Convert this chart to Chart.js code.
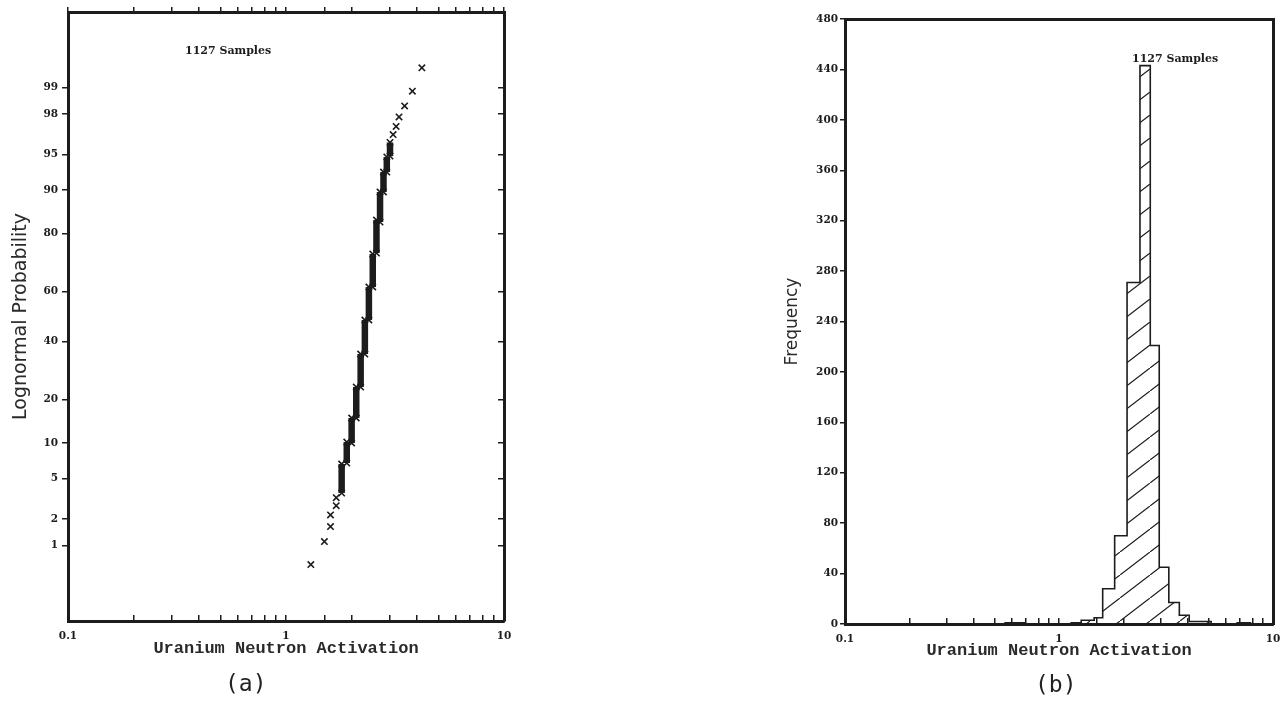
<!DOCTYPE html>
<html>
<head>
<meta charset="utf-8">
<script src="https://cdn.jsdelivr.net/npm/chart.js@4/dist/chart.umd.min.js"></script>
<style>
  body { margin: 0; background: #fff; }
  #wrap { position: relative; width: 1287px; height: 703px; overflow: hidden; background: #fff; }
  .box { position: absolute; top: 0; height: 703px; }
  .cap { position: absolute; font: 23px "DejaVu Sans Mono", monospace; line-height: 28px; color: #222; }
</style>
</head>
<body>
<div id="wrap">
  <div class="box" style="left:0;width:530px"><canvas id="chart_prob"></canvas></div>
  <div class="box" style="left:760px;width:527px"><canvas id="chart_hist"></canvas></div>
  <div class="cap" style="left:225px;top:669px">(a)</div>
  <div class="cap" style="left:1035px;top:670px">(b)</div>
</div>
<script>
// (a) lognormal probability plot
const pointX = [4.2, 3.8, 3.5, 3.3, 3.2, 3.1, 1.7, 1.7, 1.6, 1.6, 1.5, 1.3];
const pointP = [99.42, 98.89, 98.37, 97.86, 97.31, 96.76, 3.30, 2.74, 2.20, 1.65, 1.12, 0.59];

// dense columns of overlapping markers: value, lowest and highest probability (%)
const runX    = [3.0, 2.9, 2.8, 2.7, 2.6, 2.5, 2.4, 2.3, 2.2, 2.1, 2.0, 1.9, 1.8];
const runLow  = [94.82, 92.87, 89.68, 83.12, 74.03, 61.77, 48.58, 35.17, 23.71, 15.15, 9.96, 6.85, 3.66];
const runHigh = [96.13, 94.73, 92.87, 89.68, 83.62, 73.70, 61.77, 48.58, 35.17, 23.71, 15.15, 10.13, 6.72];

const probTicks = [1, 2, 5, 10, 20, 40, 60, 80, 90, 95, 98, 99];
const xTickValues = [0.1, 1, 10];
const xTickLabels = ['0.1', '1', '10'];

// (b) histogram: bin edges and counts
const binEdges  = [0.56, 0.69, 1.14, 1.27, 1.46, 1.60, 1.82, 2.08, 2.39, 2.67, 2.94, 3.26, 3.65, 4.06, 5.14, 6.8, 7.85];
const binCounts = [1, 0, 1, 3, 5, 28, 70, 271, 443, 221, 45, 17, 7, 2, 0, 1];
const freqTicks = [0, 40, 80, 120, 160, 200, 240, 280, 320, 360, 400, 440, 480];

const ink = '#1c1c1c';
const tickFont = { family: 'DejaVu Serif', size: 10.5, weight: 'bold' };
const frame = { display: true, color: ink, width: 3 };

// inverse normal cdf (Acklam), used as the probability axis transform
function qnorm(p) {
    const a = [-3.969683028665376e+01, 2.209460984245205e+02, -2.759285104469687e+02, 1.383577518672690e+02, -3.066479806614716e+01, 2.506628277459239e+00];
    const b = [-5.447609879822406e+01, 1.615858368580409e+02, -1.556989798598866e+02, 6.680131188771972e+01, -1.328068155288572e+01];
    const c = [-7.784894002430293e-03, -3.223964580411365e-01, -2.400758277161838e+00, -2.549732539343734e+00, 4.374664141464968e+00, 2.938163982698783e+00];
    const d = [7.784695709041462e-03, 3.224671290700398e-01, 2.445134137142996e+00, 3.754408661907416e+00];
    const tail = q => (((((c[0]*q+c[1])*q+c[2])*q+c[3])*q+c[4])*q+c[5]) / ((((d[0]*q+d[1])*q+d[2])*q+d[3])*q+1);
    if (p < 0.02425) return tail(Math.sqrt(-2 * Math.log(p)));
    if (p > 1 - 0.02425) return -tail(Math.sqrt(-2 * Math.log(1 - p)));
    const q = p - 0.5, r = q * q;
    return (((((a[0]*r+a[1])*r+a[2])*r+a[3])*r+a[4])*r+a[5])*q / (((((b[0]*r+b[1])*r+b[2])*r+b[3])*r+b[4])*r+1);
}
const z = pct => qnorm(pct / 100);
const zEdge = -qnorm(0.001);

function xLabel(value) {
    const i = xTickValues.findIndex(v => Math.abs(v - value) < 1e-9);
    return i < 0 ? '' : xTickLabels[i];
}

// fixed axis sizes so the plot frames land where the original has them
function fixHeight(h) {
    return s => { s.height = h; s.paddingLeft = 0; s.paddingRight = 0; };
}
function fixWidth(w) {
    return s => { s.width = w; s.paddingTop = 0; s.paddingBottom = 0; };
}

function sampleNote(dx, dy) {
    return {
        id: 'sampleNote',
        afterDraw(chart) {
            const {ctx, chartArea} = chart;
            ctx.save();
            ctx.font = 'bold 11px "DejaVu Serif"';
            ctx.fillStyle = ink;
            ctx.textBaseline = 'middle';
            ctx.fillText('1127 Samples', chartArea.left + dx, chartArea.top + dy);
            ctx.restore();
        }
    };
}

function makeHatch() {
    const c = document.createElement('canvas');
    c.width = 30; c.height = 23;
    const g = c.getContext('2d');
    g.strokeStyle = ink;
    g.lineWidth = 1.2;
    g.beginPath();
    [[0, 0], [-30, 23], [30, -23]].forEach(([dx, dy]) => {
        g.moveTo(dx, 23 + dy);
        g.lineTo(30 + dx, dy);
    });
    g.stroke();
    return g.createPattern(c, 'repeat');
}

Chart.defaults.color = ink;

const runSets = runX.map((x, i) => ({
    showLine: true,
    data: [{x: x, y: z(runLow[i])}, {x: x, y: z(runHigh[i])}],
    borderColor: ink,
    borderWidth: 6.5,
    borderCapStyle: 'butt',
    pointStyle: 'crossRot',
    pointRadius: 4.5,
    pointBorderWidth: 1.6,
    pointBorderColor: ink
}));

document.chartProb = new Chart(document.getElementById('chart_prob'), {
    type: 'scatter',
    data: {
        datasets: runSets.concat([{
            data: pointX.map((x, i) => ({x: x, y: z(pointP[i])})),
            pointStyle: 'crossRot',
            pointRadius: 4.5,
            borderWidth: 1.6,
            borderColor: ink
        }])
    },
    options: {
        responsive: true,
        maintainAspectRatio: false,
        animation: false,
        plugins: { legend: { display: false }, tooltip: { enabled: false } },
        scales: {
            x: {
                type: 'logarithmic', position: 'bottom', min: 0.1, max: 10,
                afterFit: fixHeight(82),
                border: frame,
                grid: { drawOnChartArea: false, tickLength: -6, color: ink, lineWidth: 1.5 },
                ticks: { autoSkip: false, maxRotation: 0, padding: 15, font: tickFont, callback: xLabel },
                title: { display: true, text: 'Uranium Neutron Activation', color: '#2a2a2a',
                         font: { family: 'Liberation Mono', size: 17, weight: 'bold' }, padding: { top: 0, bottom: 44 } }
            },
            x2: {
                type: 'logarithmic', position: 'top', min: 0.1, max: 10,
                afterFit: fixHeight(12),
                border: frame,
                grid: { drawOnChartArea: false, tickLength: 5, color: ink, lineWidth: 1.5 },
                ticks: { autoSkip: false, display: false }
            },
            y: {
                type: 'linear', min: -zEdge, max: zEdge,
                afterFit: fixWidth(68),
                afterBuildTicks: s => { s.ticks = probTicks.map(p => ({ value: z(p) })); },
                border: frame,
                grid: { drawOnChartArea: false, tickLength: 6, color: ink, lineWidth: 1.5 },
                ticks: { autoSkip: false, padding: 4, font: tickFont, callback: (v, i) => String(probTicks[i]) },
                title: { display: true, text: 'Lognormal Probability', color: '#2a2a2a',
                         font: { family: 'DejaVu Sans', size: 19 }, padding: { top: 10, bottom: 0 } }
            },
            y2: {
                type: 'linear', position: 'right', min: -zEdge, max: zEdge,
                afterFit: fixWidth(26),
                afterBuildTicks: s => { s.ticks = probTicks.map(p => ({ value: z(p) })); },
                border: frame,
                grid: { drawOnChartArea: false, tickLength: -6, color: ink, lineWidth: 1.5 },
                ticks: { autoSkip: false, display: false }
            }
        }
    },
    plugins: [sampleNote(117, 39)]
});

const histLine = [{x: binEdges[0], y: 0}];
binCounts.forEach((c, i) => histLine.push({x: binEdges[i], y: c}));
histLine.push({x: binEdges[binEdges.length - 1], y: 0});

document.chartHist = new Chart(document.getElementById('chart_hist'), {
    type: 'line',
    data: {
        datasets: [{
            data: histLine,
            stepped: true,
            fill: 'origin',
            backgroundColor: makeHatch(),
            borderColor: ink,
            borderWidth: 1.6,
            pointRadius: 0
        }]
    },
    options: {
        responsive: true,
        maintainAspectRatio: false,
        animation: false,
        plugins: { legend: { display: false }, tooltip: { enabled: false } },
        scales: {
            x: {
                type: 'logarithmic', position: 'bottom', min: 0.1, max: 10,
                afterFit: fixHeight(79),
                border: frame,
                grid: { drawOnChartArea: false, tickLength: -6, color: ink, lineWidth: 1.5 },
                ticks: { autoSkip: false, maxRotation: 0, padding: 15, font: tickFont, callback: xLabel },
                title: { display: true, text: 'Uranium Neutron Activation', color: '#2a2a2a',
                         font: { family: 'Liberation Mono', size: 17, weight: 'bold' }, padding: { top: 0, bottom: 42 } }
            },
            x2: {
                type: 'logarithmic', position: 'top', min: 0.1, max: 10,
                afterFit: fixHeight(19),
                border: frame,
                grid: { drawOnChartArea: false, drawTicks: false },
                ticks: { display: false }
            },
            y: {
                type: 'linear', min: 0, max: 480,
                afterFit: fixWidth(85),
                afterBuildTicks: s => { s.ticks = freqTicks.map(v => ({ value: v })); },
                border: frame,
                grid: { drawOnChartArea: false, tickLength: 5, color: ink, lineWidth: 1.5 },
                ticks: { autoSkip: false, padding: 2, font: tickFont },
                title: { display: true, text: 'Frequency', color: '#2a2a2a',
                         font: { family: 'DejaVu Sans', size: 17 }, padding: { top: 22, bottom: 0 } }
            },
            y2: {
                type: 'linear', position: 'right', min: 0, max: 480,
                afterFit: fixWidth(14),
                border: frame,
                grid: { drawOnChartArea: false, drawTicks: false },
                ticks: { display: false }
            }
        }
    },
    plugins: [sampleNote(287, 40)]
});
</script>
</body>
</html>
